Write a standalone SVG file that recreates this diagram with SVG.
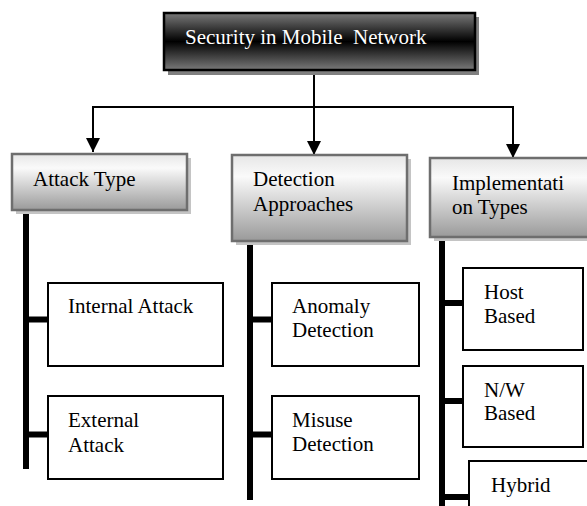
<svg xmlns="http://www.w3.org/2000/svg" width="587" height="506" viewBox="0 0 587 506">
<defs>
<linearGradient id="dark" x1="0" y1="0" x2="0" y2="1">
<stop offset="0" stop-color="#7a7a7a"/>
<stop offset="0.5" stop-color="#000"/>
<stop offset="1" stop-color="#7a7a7a"/>
</linearGradient>
<linearGradient id="light" x1="0" y1="0" x2="0" y2="1">
<stop offset="0" stop-color="#e6e6e6"/>
<stop offset="0.25" stop-color="#fafafa"/>
<stop offset="1" stop-color="#9a9a9a"/>
</linearGradient>
<marker id="ah" viewBox="0 0 14 14" refX="14" refY="7" markerWidth="14" markerHeight="14" markerUnits="userSpaceOnUse" orient="auto">
<path d="M0,0 L14,7 L0,14 Z" fill="#000"/>
</marker>
</defs>
<style>
text{font-family:"Liberation Serif","Times New Roman",serif;font-size:21px;fill:#000}
.hdr{fill:url(#light);stroke:#6e6e6e;stroke-width:2.5}
.sh{fill:#c4c4c4}
.box{fill:#fff;stroke:#000;stroke-width:2}
.conn{stroke:#000;stroke-width:2;fill:none}
.arr{marker-end:url(#ah)}
.bus{stroke:#000;stroke-width:6;fill:none}
</style>
<g id="connectors">
<line class="conn arr" x1="314" y1="70" x2="314" y2="155"/>
<line class="conn" x1="92" y1="107" x2="514" y2="107"/>
<line class="conn arr" x1="93" y1="107" x2="93" y2="152"/>
<line class="conn arr" x1="513" y1="107" x2="513" y2="158"/>
<line class="bus" x1="26" y1="211" x2="26" y2="469"/>
<line class="bus" x1="26" y1="319.5" x2="48" y2="319.5"/>
<line class="bus" x1="26" y1="434.5" x2="48" y2="434.5"/>
<line class="bus" x1="250" y1="242" x2="250" y2="500"/>
<line class="bus" x1="250" y1="319.5" x2="272" y2="319.5"/>
<line class="bus" x1="250" y1="434.5" x2="272" y2="434.5"/>
<line class="bus" x1="442" y1="237" x2="442" y2="506"/>
<line class="bus" x1="442" y1="303" x2="463" y2="303"/>
<line class="bus" x1="442" y1="401" x2="463" y2="401"/>
<line class="bus" x1="442" y1="497" x2="469" y2="497"/>
</g>
<g id="root">
<rect x="168" y="17" width="311" height="58" fill="#808080"/>
<rect x="164" y="13" width="311" height="57" fill="url(#dark)" stroke="#000" stroke-width="2.5"/>
<text x="185" y="44" style="fill:#fff" xml:space="preserve">Security in Mobile  Network</text>
</g>
<g id="attack-type">
<rect class="sh" x="16" y="158" width="175" height="56"/>
<rect class="hdr" x="12" y="154" width="175" height="56"/>
<text x="33" y="186">Attack Type</text>
</g>
<g id="detection-approaches">
<rect class="sh" x="236" y="159" width="175" height="86"/>
<rect class="hdr" x="232" y="155" width="175" height="86"/>
<text x="253" y="186">Detection</text>
<text x="253" y="211">Approaches</text>
</g>
<g id="implementation-types">
<rect class="sh" x="434" y="162" width="160" height="79"/>
<rect class="hdr" x="430" y="158" width="165" height="79"/>
<text x="452" y="190">Implementati</text>
<text x="452" y="214">on Types</text>
</g>
<g id="internal-attack">
<rect class="box" x="48" y="283" width="175" height="83"/>
<text x="68" y="313">Internal Attack</text>
</g>
<g id="external-attack">
<rect class="box" x="48" y="396" width="175" height="83"/>
<text x="68" y="427">External</text>
<text x="68" y="452">Attack</text>
</g>
<g id="anomaly-detection">
<rect class="box" x="272" y="283" width="147" height="83"/>
<text x="292" y="313">Anomaly</text>
<text x="292" y="337">Detection</text>
</g>
<g id="misuse-detection">
<rect class="box" x="272" y="396" width="147" height="83"/>
<text x="292" y="427">Misuse</text>
<text x="292" y="451">Detection</text>
</g>
<g id="host-based">
<rect class="box" x="463" y="268" width="120" height="82"/>
<text x="484" y="299">Host</text>
<text x="484" y="323">Based</text>
</g>
<g id="nw-based">
<rect class="box" x="463" y="366" width="120" height="81"/>
<text x="484" y="397">N/W</text>
<text x="484" y="420">Based</text>
</g>
<g id="hybrid">
<rect class="box" x="469" y="461" width="130" height="60"/>
<text x="491" y="492">Hybrid</text>
</g>
</svg>
